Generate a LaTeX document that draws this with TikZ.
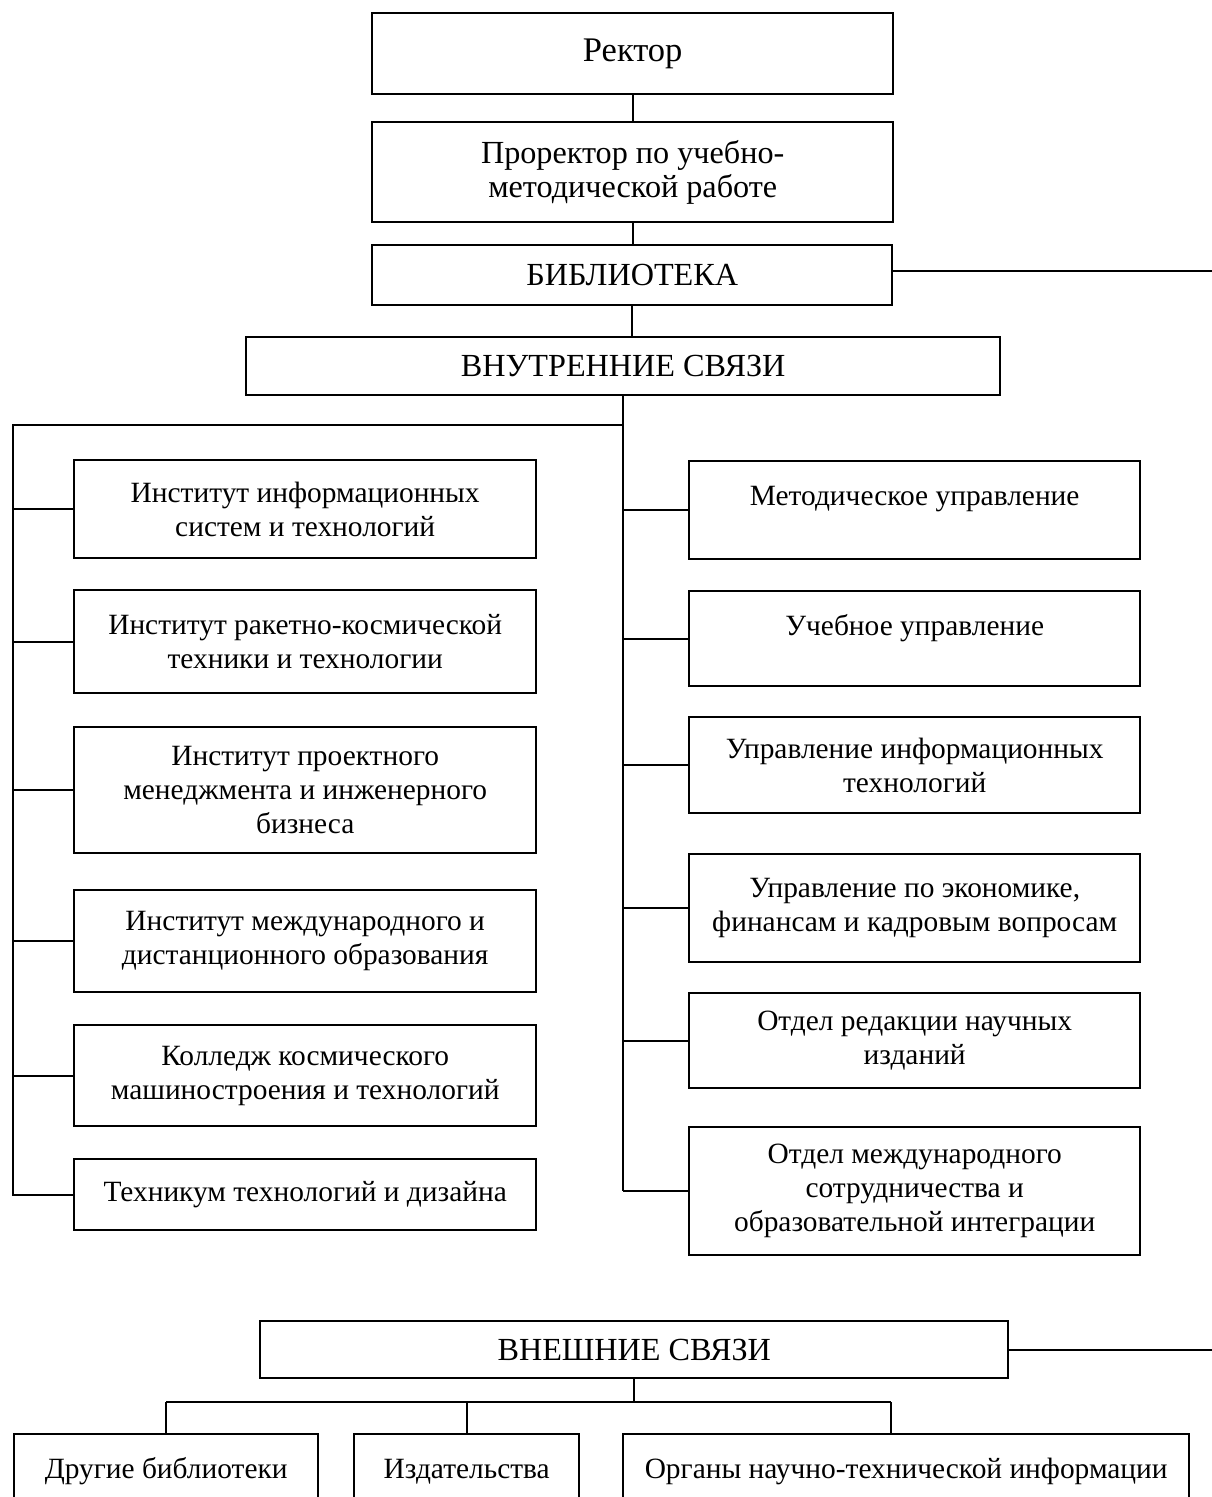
\documentclass[tikz,border=0pt]{standalone}
\usepackage{fontspec}
\setmainfont{Liberation Serif}
\begin{document}
\begin{tikzpicture}[x=1pt,y=-1pt,
  box/.style={draw, line width=2.4pt, align=center, inner sep=0pt, anchor=north west,
    font=\fontsize{29.4}{34}\selectfont},
  bigbox/.style={box, font=\fontsize{32.2}{34}\selectfont},
  conn/.style={line width=2.4pt}]
\useasboundingbox (0,0) rectangle (1212,1497);
% top chain
\node[box, font=\fontsize{34.5}{36}\selectfont, minimum width=521, minimum height=81] (rector) at (371,12) {Ректор};
\node[bigbox, minimum width=521, minimum height=100] (prorector) at (371,121) {Проректор по учебно-\\методической работе};
\node[bigbox, minimum width=520, minimum height=60] (lib) at (371,244) {БИБЛИОТЕКА};
\node[bigbox, minimum width=754, minimum height=58] (inner) at (245,336) {ВНУТРЕННИЕ СВЯЗИ};
% left column
\node[box, minimum width=462, minimum height=98] (l1) at (73,459) {Институт информационных\\систем и технологий};
\node[box, minimum width=462, minimum height=103] (l2) at (73,589) {Институт ракетно-космической\\техники и технологии};
\node[box, minimum width=462, minimum height=126] (l3) at (73,726) {Институт проектного\\менеджмента и инженерного\\бизнеса};
\node[box, minimum width=462, minimum height=102] (l4) at (73,889) {Институт международного и\\дистанционного образования};
\node[box, minimum width=462, minimum height=101] (l5) at (73,1024) {Колледж космического\\машиностроения и технологий};
\node[box, minimum width=462, minimum height=71] (l6) at (73,1158) {Техникум технологий и дизайна};
% right column
\node[box, minimum width=451, minimum height=98] (r1) at (688,460) {Методическое управление\\[-16pt]\strut};
\node[box, minimum width=451, minimum height=95] (r2) at (688,590) {Учебное управление\\[-16pt]\strut};
\node[box, minimum width=451, minimum height=96] (r3) at (688,716) {Управление информационных\\технологий};
\node[box, minimum width=451, minimum height=108] (r4) at (688,853) {Управление по экономике,\\финансам и кадровым вопросам};
\node[box, minimum width=451, minimum height=95] (r5) at (688,992) {Отдел редакции научных\\изданий};
\node[box, minimum width=451, minimum height=128] (r6) at (688,1126) {Отдел международного\\сотрудничества и\\образовательной интеграции};
% external
\node[bigbox, minimum width=748, minimum height=57] (ext) at (259,1320) {ВНЕШНИЕ СВЯЗИ};
\node[box, minimum width=304, minimum height=74] (b1) at (13,1433) {Другие библиотеки};
\node[box, minimum width=225, minimum height=74] (b2) at (353,1433) {Издательства};
\node[box, minimum width=566, minimum height=74] (b3) at (622,1433) {Органы научно-технической информации};
% coordinates
\coordinate (libR) at (1212,271);
\coordinate (extR) at (1212,1350);
\coordinate (lt) at (13,425);
\coordinate (hL) at (166,1402);
\coordinate (hR) at (891,1402);
% connectors
\draw[conn] (rector.south) -- (prorector.north);
\draw[conn] (prorector.south) -- (prorector.south |- lib.north);
\draw[conn] (lib.south) -- (lib.south |- inner.north);
\draw[conn] (lib.east |- libR) -- (libR);
\draw[conn] (inner.south) -- (inner.south |- r6.west);
\draw[conn] (inner.south |- lt) -- (lt) -- (lt |- l6.west) -- (l6.west);
\foreach \n in {l1,l2,l3,l4,l5}{\draw[conn] (lt |- \n.west) -- (\n.west);}
\foreach \n in {r1,r2,r3,r4,r5,r6}{\draw[conn] (inner.south |- \n.west) -- (\n.west);}
\draw[conn] (ext.east |- extR) -- (extR);
\draw[conn] (ext.south) -- (ext.south |- hL);
\draw[conn] (hL) -- (hR);
\draw[conn] (hL) -- (hL |- b1.north);
\draw[conn] (b2.north |- hL) -- (b2.north);
\draw[conn] (hR) -- (hR |- b3.north);
\end{tikzpicture}
\end{document}
